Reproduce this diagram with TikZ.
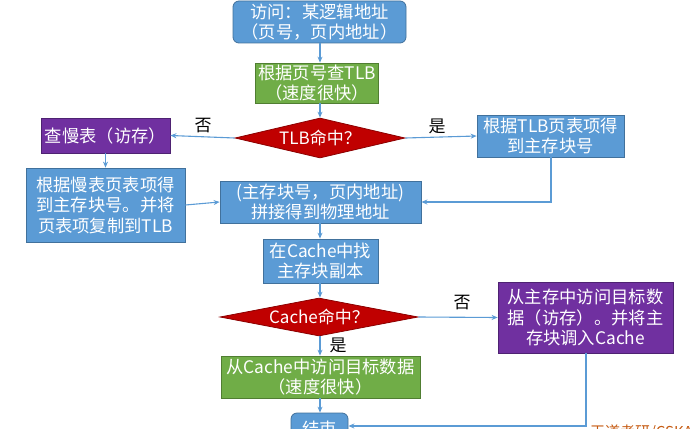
\documentclass[tikz,border=0pt]{standalone}
\usepackage{fontspec}
\setmainfont{Noto Sans CJK SC}
\usetikzlibrary{shapes.geometric,arrows.meta}
\definecolor{bfill}{HTML}{5B9BD5}
\definecolor{bdraw}{HTML}{41719C}
\definecolor{gfill}{HTML}{70AD47}
\definecolor{gdraw}{HTML}{507E32}
\definecolor{pfill}{HTML}{7030A0}
\definecolor{pdraw}{HTML}{4E2272}
\definecolor{rfill}{HTML}{C00000}
\definecolor{rdraw}{HTML}{8C0000}
\definecolor{lin}{HTML}{5B9BD5}
\definecolor{wm}{HTML}{C55A11}
\tikzset{
  base/.style={rectangle, text=white, inner sep=0pt, align=center,
    font=\fontsize{17.3}{20.5}\selectfont, line width=0.8pt},
  bluebox/.style={base, fill=bfill, draw=bdraw},
  greenbox/.style={base, fill=gfill, draw=gdraw},
  purplebox/.style={base, fill=pfill, draw=pdraw},
  decide/.style={diamond, fill=rfill, draw=rdraw, text=white, inner sep=0pt,
    font=\fontsize{17}{20}\selectfont, line width=0.8pt},
  conn/.style={draw=lin, line width=1.1pt, -{Stealth[length=6pt,width=5pt]}},
  lab/.style={font=\fontsize{17}{20}\selectfont, text=black, inner sep=0pt}
}
\begin{document}
\begin{tikzpicture}[x=1pt,y=-1pt]
\useasboundingbox (0,0) rectangle (692,428);
\node[bluebox, rounded corners=6pt, minimum width=173pt, minimum height=42pt] (top) at (319.5,22) {访问：某逻辑地址\\（页号，页内地址）};
\node[greenbox, minimum width=123pt, minimum height=40pt] (tlb) at (317,83) {根据页号查TLB\\（速度很快）};
\node[decide, aspect=4.25, minimum width=170pt, minimum height=40pt] (d1) at (320,138) {TLB命中？};
\node[purplebox, minimum width=129pt, minimum height=35pt] (slow) at (105.5,135.5) {查慢表（访存）};
\node[bluebox, minimum width=147pt, minimum height=42pt] (hit) at (550.5,136) {根据TLB页表项得\\到主存块号};
\node[bluebox, minimum width=159pt, minimum height=74pt] (slow2) at (105.5,205) {根据慢表页表项得\\到主存块号。并将\\页表项复制到TLB};
\node[bluebox, minimum width=201pt, minimum height=42pt] (phys) at (320.5,202) {(主存块号，页内地址)\\拼接得到物理地址};
\node[bluebox, minimum width=115pt, minimum height=44pt] (find) at (320.5,261) {在Cache中找\\主存块副本};
\node[decide, aspect=5.2, minimum width=198pt, minimum height=38pt] (d2) at (319,317) {Cache命中？};
\node[purplebox, minimum width=175pt, minimum height=71pt] (mem) at (585.5,317.5) {从主存中访问目标数\\据（访存）。并将主\\存块调入Cache};
\node[greenbox, minimum width=199pt, minimum height=42pt] (cache) at (320.5,377) {从Cache中访问目标数据\\（速度很快）};
\node[bluebox, rounded corners=6pt, minimum width=57pt, minimum height=32pt] (end) at (319.5,429) {结束};
\node[lab] (no1) at (203,126) {否};
\node[lab] (yes1) at (437,126) {是};
\node[lab] (no2) at (462,303) {否};
\node[lab] (yes2) at (338,345) {是};
\node[anchor=north west, inner sep=0pt, text=wm, font=\fontsize{15}{18}\selectfont] (wmk) at (590,424.5) {王道考研/CSKAOYAN.COM};
\coordinate (c1) at (551,202);
\coordinate (c2) at (586,426);
\draw[conn] (top.south -| 320,0) -- (tlb.north -| 320,0);
\draw[conn] (tlb.south -| 320,0) -- (d1.north);
\draw[conn] (d1.west) -- (slow.east);
\draw[conn] (d1.east) -- (hit.west);
\draw[conn] (slow.south) -- (slow2.north);
\draw[conn] (slow2.east) -- (phys.west);
\draw[conn] (hit.south -| c1) -- (c1) -- (phys.east);
\draw[conn] (phys.south -| 320,0) -- (find.north -| 320,0);
\draw[conn] (find.south -| 320,0) -- (d2.north -| 320,0);
\draw[conn] (d2.east) -- (mem.west);
\draw[conn] (d2.south -| 320,0) -- (cache.north -| 320,0);
\draw[conn] (cache.south -| 320,0) -- (end.north -| 320,0);
\draw[conn] (mem.south -| c2) -- (c2) -- (end.east |- c2);
\end{tikzpicture}
\end{document}
